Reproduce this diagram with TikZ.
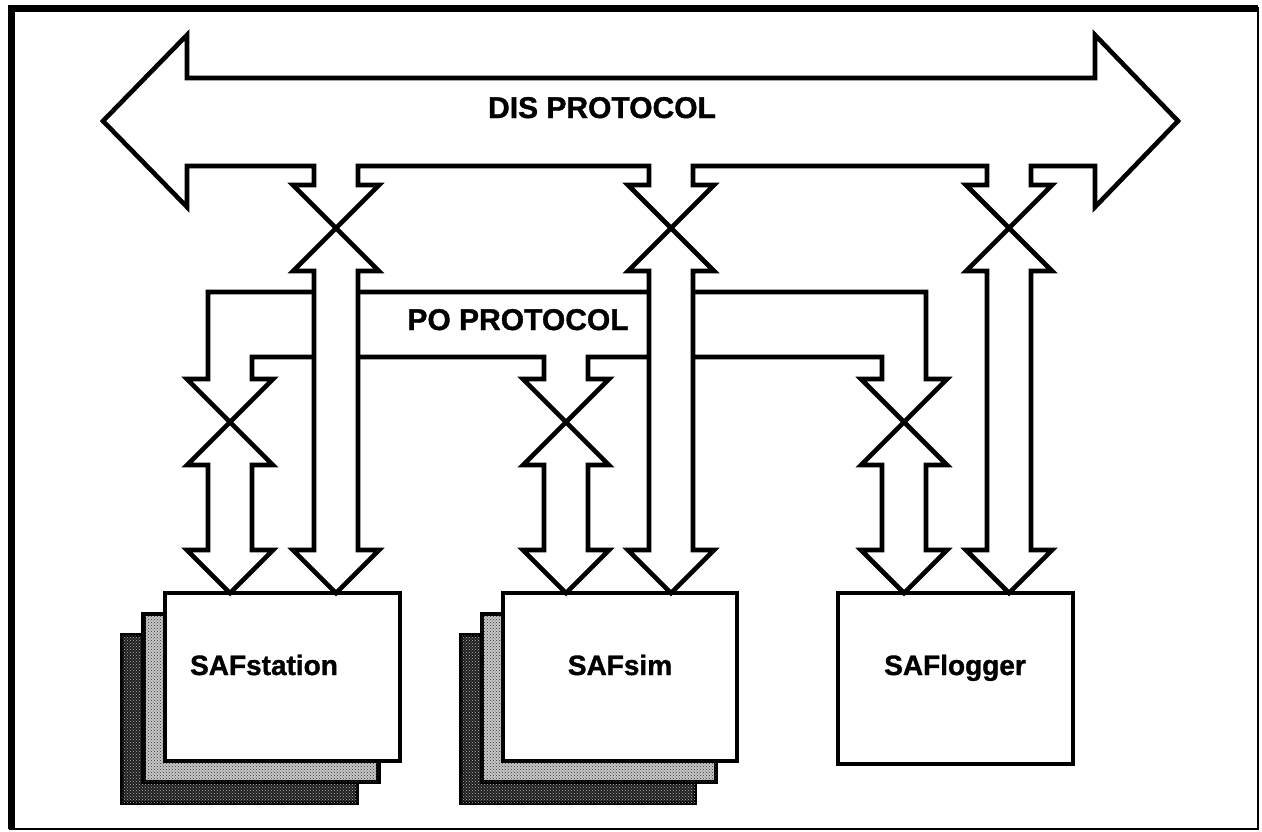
\documentclass[tikz,border=0pt]{standalone}
\usepackage{fontspec}
\setmainfont{Liberation Sans}[BoldFeatures={FakeBold=1.2}]
\usetikzlibrary{calc,patterns}

\tikzset{
  outline/.style={draw=black, line width=4.6pt, line join=miter, fill=white},
  unitbox/.style={outline, rectangle, minimum width=235pt, minimum height=168pt,
                  inner sep=0pt, outer sep=0pt},
  layerlight/.style={draw=black, line width=4.4pt, fill=black!22,
                     postaction={pattern=crosshatch dots, pattern color=black!80}},
  layerdark/.style={draw=black, line width=4.4pt, fill=black!88,
                    postaction={pattern=crosshatch dots, pattern color=white!70!black}},
  title/.style={font=\bfseries\fontsize{30}{36}\selectfont, anchor=base, inner sep=0pt},
  unitlabel/.style={font=\bfseries\fontsize{28}{34}\selectfont, anchor=base, inner sep=0pt},
}

% Double-headed fat arrow from a crossing point down to the top edge of a unit box
\newcommand\droplink[2]{%
  \path (#1 |- #2.north) coordinate (#1tip);
  \draw[outline] (#1) -- ++(-43,43) -- ++(21,0)
    -- ($(#1tip)+(-22,-43)$) -- ++(-21,0) -- (#1tip) -- ++(43,-43) -- ++(-21,0)
    -- ($(#1)+(22,43)$) -- ++(21,0) -- cycle;
}

\begin{document}
\begin{tikzpicture}[x=1pt, y=-1pt]
\useasboundingbox (0,0) rectangle (1262,831);

% outer frame
\draw[line width=2.5pt] (10,8) rectangle (1258,829);
\draw[line width=7pt] (11,829) -- (11,8.5) -- (1258,8.5);

% crossing points of the bus drops
\coordinate (d1) at (336,228);
\coordinate (d2) at (671,228);
\coordinate (d3) at (1009,228);
\coordinate (p1) at (230,422);
\coordinate (p2) at (566,422);
\coordinate (p3) at (904,422);

% DIS bus: double-headed band with three drops
\draw[outline] (103,121) -- (187,35) -- (187,78) -- (1095,78) -- (1095,35)
  -- (1178,121) -- (1095,207) -- (1095,166)
  -- (1031,166) -- (1031,185) -- (1052,185) -- (d3) -- (966,185) -- (987,185) -- (987,166)
  -- (693,166) -- (693,185) -- (714,185) -- (d2) -- (628,185) -- (649,185) -- (649,166)
  -- (358,166) -- (358,185) -- (379,185) -- (d1) -- (293,185) -- (314,185) -- (314,166)
  -- (187,166) -- (187,207) -- cycle;
\node[title] (dis) at (602,118) {DIS PROTOCOL};

% PO bus: band bent down at both ends, with a middle drop
\draw[outline] (208,379) -- (208,292) -- (926,292) -- (926,379) -- (947,379) -- (p3)
  -- (861,379) -- (882,379) -- (882,357)
  -- (588,357) -- (588,379) -- (609,379) -- (p2) -- (523,379) -- (544,379) -- (544,357)
  -- (252,357) -- (252,379) -- (273,379) -- (p1) -- (187,379) -- cycle;
\node[title] (po) at (518,330) {PO PROTOCOL};

% SAFstation with two stacked copies behind it
\draw[layerdark]  (122,635) rectangle (357,803);
\draw[layerlight] (143.5,614) rectangle (378.5,782);
\node[unitbox] (station) at (282.5,677) {};
\node[unitlabel] (stationtext) at (264,675) {SAFstation};

% SAFsim with two stacked copies behind it
\draw[layerdark]  (461,635) rectangle (695,803);
\draw[layerlight] (482,614) rectangle (716,782);
\node[unitbox, minimum width=234pt] (sim) at (620,677) {};
\node[unitlabel] (simtext) at (620,675) {SAFsim};

% SAFlogger
\node[unitbox, minimum height=171pt] (logger) at (955.5,678.5) {};
\node[unitlabel] (loggertext) at (955,675) {SAFlogger};

% links from the crossings down to the units
\droplink{p1}{station}
\droplink{d1}{station}
\droplink{p2}{sim}
\droplink{d2}{sim}
\droplink{p3}{logger}
\droplink{d3}{logger}
\end{tikzpicture}
\end{document}
